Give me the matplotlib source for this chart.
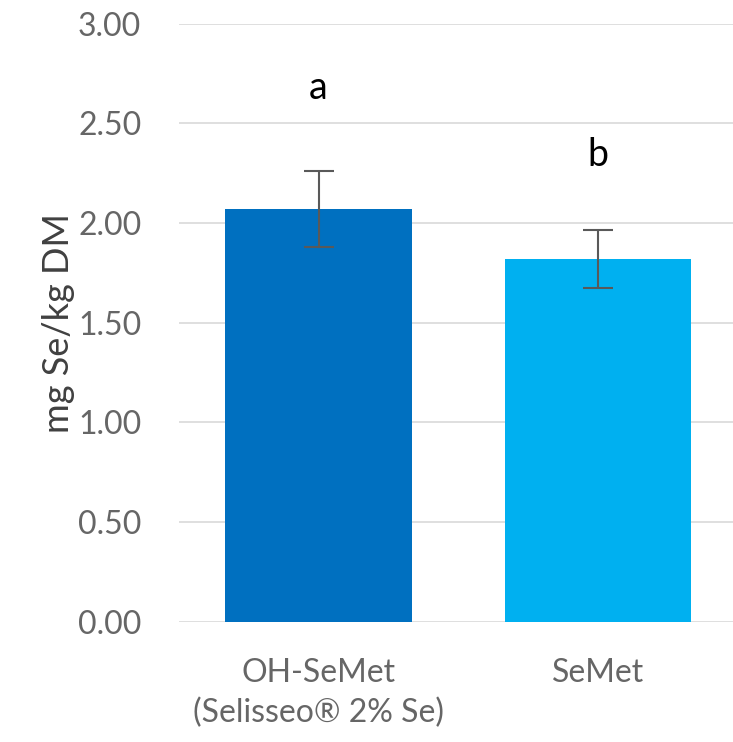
import numpy as np
import matplotlib.pyplot as plt

# Se content in tissue, mean +/- SD
groups = ['OH-SeMet\n(Selisseo® 2% Se)', 'SeMet']
means = [2.07, 1.82]
errors = [0.19, 0.145]
letters = ['a', 'b']
letter_y = [2.68, 2.34]
bar_colors = ['#0070C0', '#00B0F0']
yticks = [0.0, 0.5, 1.0, 1.5, 2.0, 2.5, 3.0]

plt.rcParams['font.family'] = ['Lato', 'DejaVu Sans']

fig = plt.figure(figsize=(7.33, 7.42), dpi=100)
ax = fig.add_axes([0.244, 0.162, 0.756, 0.806])

x = np.arange(len(groups))
ax.bar(x, means, width=0.667, color=bar_colors, zorder=2)
ax.errorbar(x, means, yerr=errors, fmt='none', ecolor='#595959',
            elinewidth=1.5, capsize=11, capthick=1.5, zorder=3)

for xi, lab, ly in zip(x, letters, letter_y):
    ax.text(xi, ly, lab, ha='center', va='center', fontsize=27, color='black')

ax.set_xlim(-0.5, 1.484)
ax.set_ylim(0, 3)
ax.set_yticks(yticks)
ax.set_yticklabels([f'{v:.2f}' for v in yticks])
ax.set_xticks(x)
ax.set_xticklabels(groups)

ax.yaxis.grid(True, color='#D9D9D9', linewidth=1.2, zorder=0)
ax.set_axisbelow(True)
for s in ax.spines.values():
    s.set_visible(False)
ax.tick_params(length=0, colors='#666666')
ax.tick_params(axis='y', pad=27, labelsize=23)
ax.tick_params(axis='x', pad=26, labelsize=23)
for t in ax.get_xticklabels():
    t.set_linespacing(1.4)

ax.set_ylabel('mg Se/kg DM', fontsize=26, color='#404040', labelpad=2)

fig.savefig('out.png', dpi=100)
